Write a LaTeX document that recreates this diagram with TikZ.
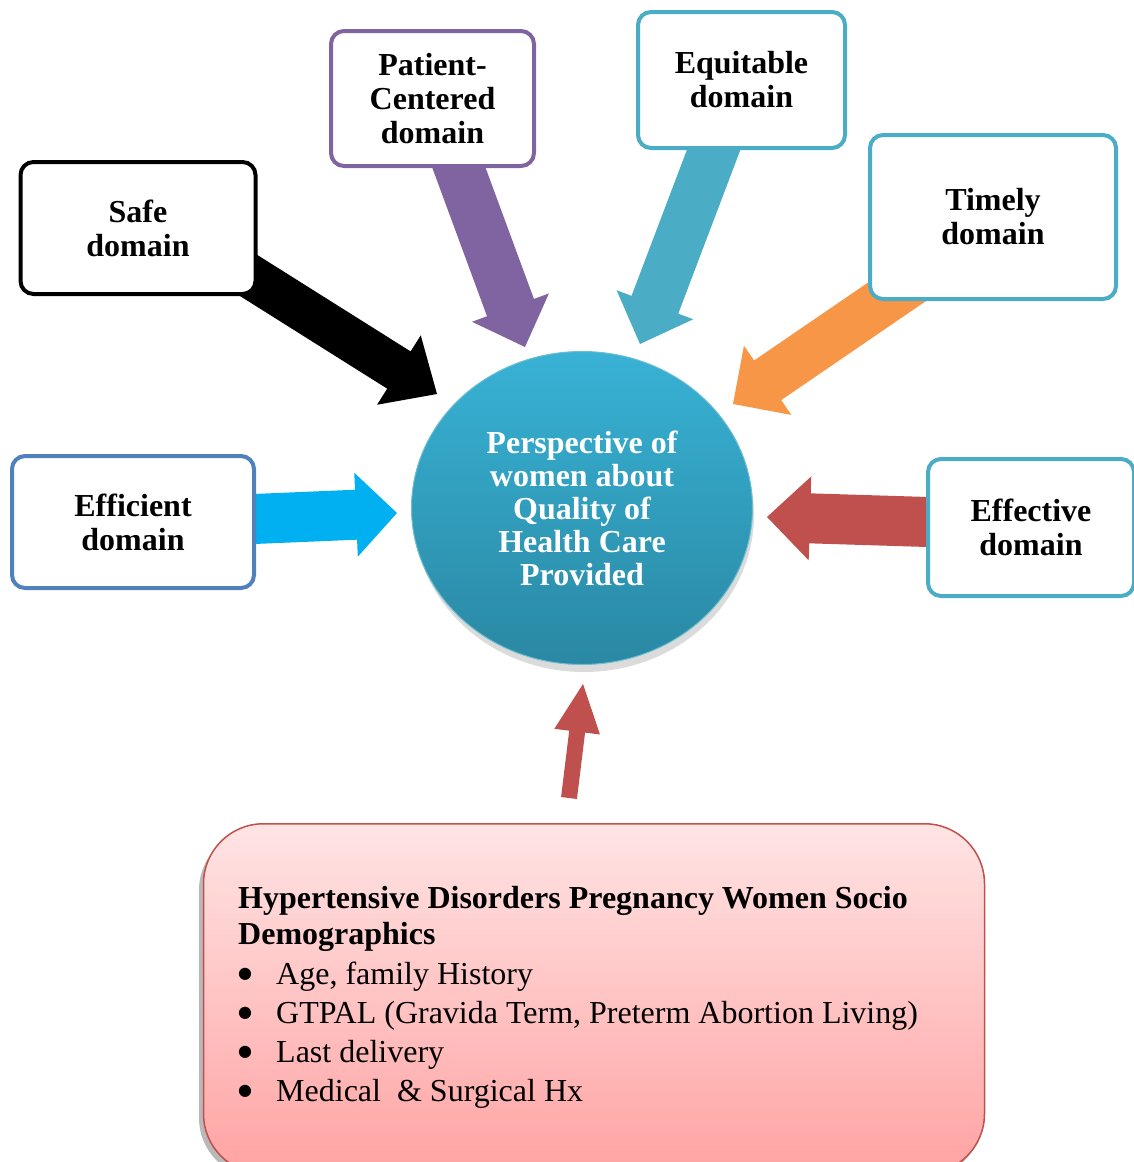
\documentclass[tikz,border=0pt]{standalone}
\usepackage{fontspec}
\setmainfont{Liberation Serif}
\newfontfamily\dotfont{DejaVu Sans}
\usetikzlibrary{calc,shapes.geometric}

\definecolor{purpleline}{HTML}{8064A2}
\definecolor{aqualine}{HTML}{4BACC6}
\definecolor{blueline}{HTML}{4F81BD}
\definecolor{orangefill}{HTML}{F79646}
\definecolor{cyanfill}{HTML}{00B0F0}
\definecolor{redfill}{HTML}{C0504D}
\definecolor{hubtop}{HTML}{38B2D5}
\definecolor{hubbottom}{HTML}{2A88A3}
\definecolor{pinktop}{HTML}{FFE4E4}
\definecolor{pinkbottom}{HTML}{FFA3A3}

\tikzset{
  domain/.style={draw=#1, line width=4pt, rounded corners=13pt, fill=white,
    align=center, inner sep=0pt, font=\bfseries\fontsize{32}{34}\selectfont},
}

% block arrow: colour, tail, tip, half shaft, half head, head length
\newcommand{\blockarrow}[6]{%
  \coordinate (neck) at ($(#3)!#6!(#2)$);
  \fill[#1] ($(#2)!#4!90:(#3)$) -- ($(neck)!#4!90:(#3)$) -- ($(neck)!#5!90:(#3)$) -- (#3)
    -- ($(neck)!#5!-90:(#3)$) -- ($(neck)!#4!-90:(#3)$) -- ($(#2)!#4!-90:(#3)$) -- cycle;
}
\newcommand{\bigdot}{\makebox[38pt][l]{\raisebox{6pt}{\dotfont\fontsize{16}{18}\selectfont ●}}}

\begin{document}
\begin{tikzpicture}[x=1pt,y=-1pt]
  \useasboundingbox (0,0) rectangle (1134,1162);
  \clip (0,0) rectangle (1134,1162);

  % arrow ends
  \coordinate (safe tail) at (197,243);
  \coordinate (safe tip) at (437,394);
  \coordinate (patient tail) at (445,130);
  \coordinate (patient tip) at (525,347);
  \coordinate (equit tail) at (728,112);
  \coordinate (equit tip) at (640,344);
  \coordinate (timely tail) at (923,274);
  \coordinate (timely tip) at (733,404);
  \coordinate (effic tail) at (230,520);
  \coordinate (effic tip) at (397,513);
  \coordinate (effect tail) at (960,523);
  \coordinate (effect tip) at (767,517);
  \coordinate (demo tail) at (569,798);
  \coordinate (demo tip) at (583,684);

  \blockarrow{black}{safe tail}{safe tip}{22pt}{41pt}{45pt}
  \blockarrow{purpleline}{patient tail}{patient tip}{25pt}{41pt}{42pt}
  \blockarrow{aqualine}{equit tail}{equit tip}{25pt}{41pt}{42pt}
  \blockarrow{orangefill}{timely tail}{timely tip}{24pt}{42pt}{42pt}
  \blockarrow{cyanfill}{effic tail}{effic tip}{25pt}{42pt}{41pt}
  \blockarrow{redfill}{effect tail}{effect tip}{25pt}{42pt}{43pt}
  \blockarrow{redfill}{demo tail}{demo tip}{8pt}{23pt}{48pt}

  % centre
  \fill[black, opacity=0.14] (584,515) ellipse [x radius=170pt, y radius=157pt];
  \node[ellipse, minimum width=341pt, minimum height=313pt, inner sep=0pt,
    top color=hubtop, bottom color=hubbottom, draw=aqualine!80, line width=1pt,
    text=white, align=center, font=\bfseries\fontsize{32}{33}\selectfont]
    (hub) at (582,508) {Perspective of\\women about\\Quality of\\Health Care\\Provided};

  % domains
  \node[domain=black, minimum width=235pt, minimum height=132pt] (safe) at (138,228) {Safe\\domain};
  \node[domain=purpleline, minimum width=203pt, minimum height=135pt] (patient) at (432.5,98.5) {Patient-\\Centered\\domain};
  \node[domain=aqualine, minimum width=207pt, minimum height=136pt] (equit) at (741.5,80) {Equitable\\domain};
  \node[domain=aqualine, minimum width=246pt, minimum height=164pt] (timely) at (993,217) {Timely\\domain};
  \node[domain=blueline, minimum width=242pt, minimum height=132pt] (effic) at (133,522) {Efficient\\domain};
  \node[domain=aqualine, minimum width=206pt, minimum height=137pt] (effect) at (1031,527.5) {Effective\\domain};

  % socio demographics
  \fill[gray!55, rounded corners=60pt] (199,830) rectangle (982,1178);
  \node[draw=redfill, line width=1.5pt, rounded corners=60pt, top color=pinktop,
    bottom color=pinkbottom, minimum width=781pt, minimum height=350pt, anchor=north]
    (demo) at (594,823) {};
  \node[anchor=north west, align=left, inner sep=0pt, font=\fontsize{32}{39}\selectfont]
    (demotext) at (238,886) {%
    \textbf{Hypertensive Disorders Pregnancy Women Socio}\\[-3pt]
    \textbf{Demographics}\\[1pt]
    \bigdot Age, family History\\
    \bigdot GTPAL (Gravida Term, Preterm Abortion Living)\\
    \bigdot Last delivery\\
    \bigdot Medical \ \& Surgical Hx};
\end{tikzpicture}
\end{document}
